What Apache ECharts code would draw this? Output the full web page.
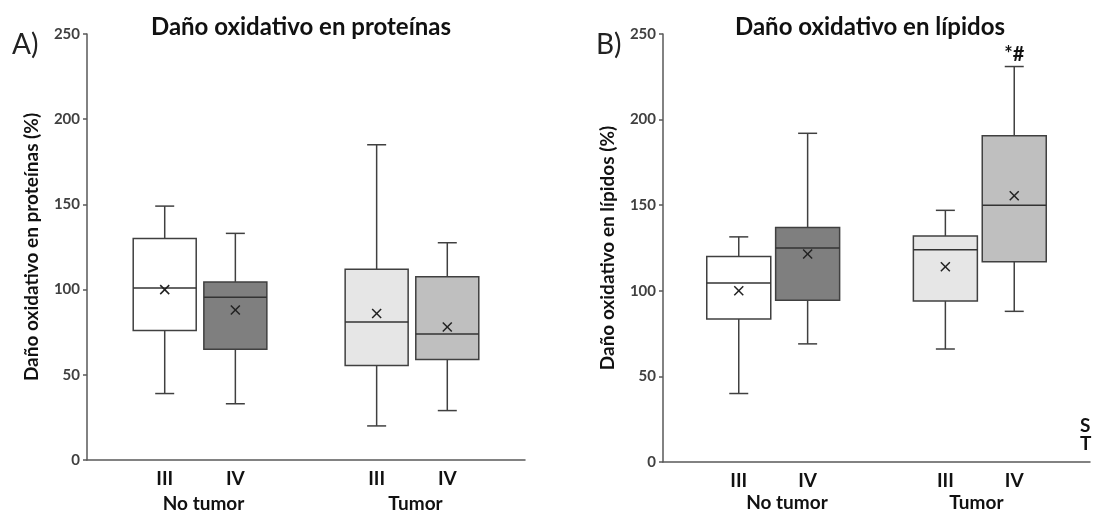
<!DOCTYPE html>
<html><head><meta charset="utf-8">
<script src="https://cdn.jsdelivr.net/npm/echarts@6/dist/echarts.min.js"></script>
<style>html,body{margin:0;padding:0;background:#fff}#c{width:1093px;height:513px}</style>
</head><body><div id="c"></div>
<script>
// ---- data ----
const stageLabels = ['III', 'IV', 'III', 'IV'];
const groupLabels = ['No tumor', 'Tumor'];
const yTicks = [0, 50, 100, 150, 200, 250];
// [min, Q1, median, Q3, max]
const proteinBoxes = [
  [39, 76, 101, 130, 149],
  [33, 65, 95.5, 104.5, 133],
  [20, 55.5, 81, 112, 185],
  [29, 59, 74, 107.5, 127.5]
];
const proteinMeans = [100, 88, 86, 78];
const lipidBoxes = [
  [40, 83.5, 104.5, 120, 131.5],
  [69, 94.5, 125, 137, 192],
  [66, 94, 124, 132, 147],
  [88, 117, 150, 190.5, 231]
];
const lipidMeans = [100, 121.5, 114, 155.5];
const lipidMarks = ['', '', '', '*#'];
const proteinMarks = ['', '', '', ''];

// ---- layout / style ----
const boxFills = ['#ffffff', '#7f7f7f', '#e6e6e6', '#bfbfbf'];
const FONT = 'Lato';
const layoutA = { slots: 31, boxSlots: [5, 10, 20, 25], gSlots: 125, groupSlots: [33, 93], boxW: 63, gMargin: 34 };
const layoutB = { slots: 31, boxSlots: [5, 10, 20, 25], gSlots: 125, groupSlots: [36, 91], boxW: 64, gMargin: 31 };

function slotData(n, idxs, labels) {
  const a = new Array(n).fill('');
  idxs.forEach((s, i) => { a[s] = labels[i]; });
  return a;
}

function makeRender(boxW, marks) {
  return function (params, api) {
    const x = api.value(0);
    const mn = api.coord([x, api.value(1)]);
    const q1 = api.coord([x, api.value(2)]);
    const md = api.coord([x, api.value(3)]);
    const q3 = api.coord([x, api.value(4)]);
    const mx = api.coord([x, api.value(5)]);
    const me = api.coord([x, api.value(6)]);
    const cx = mn[0], h = boxW / 2, cap = 9.5, xs = 4.5;
    const ln = { stroke: '#404040', lineWidth: 1.5 };
    const children = [
      { type: 'line', shape: { x1: cx, y1: q3[1], x2: cx, y2: mx[1] }, style: ln },
      { type: 'line', shape: { x1: cx, y1: q1[1], x2: cx, y2: mn[1] }, style: ln },
      { type: 'line', shape: { x1: cx - cap, y1: mx[1], x2: cx + cap, y2: mx[1] }, style: ln },
      { type: 'line', shape: { x1: cx - cap, y1: mn[1], x2: cx + cap, y2: mn[1] }, style: ln },
      { type: 'rect', shape: { x: cx - h, y: q3[1], width: boxW, height: q1[1] - q3[1] },
        style: { fill: boxFills[params.dataIndex], stroke: '#404040', lineWidth: 1.5 } },
      { type: 'line', shape: { x1: cx - h, y1: md[1], x2: cx + h, y2: md[1] }, style: { stroke: '#333', lineWidth: 1.5 } },
      { type: 'line', shape: { x1: cx - xs, y1: me[1] - xs, x2: cx + xs, y2: me[1] + xs }, style: { stroke: '#222', lineWidth: 1.5 } },
      { type: 'line', shape: { x1: cx - xs, y1: me[1] + xs, x2: cx + xs, y2: me[1] - xs }, style: { stroke: '#222', lineWidth: 1.5 } }
    ];
    const m = marks[params.dataIndex];
    if (m) {
      children.push({ type: 'text', x: cx, y: mx[1] - 2,
        style: { text: m, font: 'bold 20px ' + FONT, fill: '#111', align: 'center', verticalAlign: 'bottom' } });
    }
    return { type: 'group', children };
  };
}

function seriesData(layout, boxes, means) {
  return boxes.map((b, i) => [layout.boxSlots[i]].concat(b).concat([means[i]]));
}

const axisLineStyle = { color: '#595959', width: 1.5 };

function xAxes(gi, layout) {
  return [
    { gridIndex: gi, type: 'category', boundaryGap: true,
      data: slotData(layout.slots, layout.boxSlots, stageLabels),
      axisLine: { lineStyle: axisLineStyle }, axisTick: { show: false },
      axisLabel: { interval: 0, margin: 9, fontFamily: FONT, fontWeight: 'bold', fontSize: 19, color: '#111' } },
    { gridIndex: gi, type: 'category', boundaryGap: false, position: 'bottom',
      data: slotData(layout.gSlots, layout.groupSlots, groupLabels),
      axisLine: { show: false }, axisTick: { show: false },
      axisLabel: { interval: 0, margin: layout.gMargin, fontFamily: FONT, fontWeight: 'bold', fontSize: 19, color: '#111' } }
  ];
}

function yAxis(gi, name) {
  return { gridIndex: gi, type: 'value', min: yTicks[0], max: yTicks[yTicks.length - 1], interval: yTicks[1] - yTicks[0],
    name, nameLocation: 'middle', nameRotate: 90, nameGap: 46,
    nameTextStyle: { fontFamily: FONT, fontWeight: 'bold', fontSize: 19, color: '#111' },
    axisLine: { show: true, lineStyle: axisLineStyle },
    axisTick: { show: true, length: 4, lineStyle: axisLineStyle },
    splitLine: { show: false },
    axisLabel: { margin: 7, fontFamily: FONT, fontWeight: 'bold', fontSize: 15, color: '#404040' } };
}

const chart = echarts.init(document.getElementById('c'), null, { renderer: 'canvas' });
chart.setOption({
  animation: false,
  backgroundColor: '#ffffff',
  grid: [
    { left: 87, top: 34, width: 438, height: 428 },
    { left: 663, top: 34, width: 438, height: 428 }
  ],
  xAxis: xAxes(0, layoutA).concat(xAxes(1, layoutB)),
  yAxis: [yAxis(0, 'Daño oxidativo en proteínas (%)'), yAxis(1, 'Daño oxidativo en lípidos (%)')],
  series: [
    { type: 'custom', xAxisIndex: 0, yAxisIndex: 0, clip: false,
      renderItem: makeRender(layoutA.boxW, proteinMarks),
      encode: { x: 0, y: [1, 2, 3, 4, 5, 6] },
      data: seriesData(layoutA, proteinBoxes, proteinMeans) },
    { type: 'custom', xAxisIndex: 2, yAxisIndex: 1, clip: false,
      renderItem: makeRender(layoutB.boxW, lipidMarks),
      encode: { x: 0, y: [1, 2, 3, 4, 5, 6] },
      data: seriesData(layoutB, lipidBoxes, lipidMeans) }
  ],
  graphic: [
    { type: 'text', x: 301, y: 27, style: { text: 'Daño oxidativo en proteínas', font: 'bold 24px ' + FONT, fill: '#111', align: 'center', verticalAlign: 'middle' } },
    { type: 'text', x: 870, y: 27, style: { text: 'Daño oxidativo en lípidos', font: 'bold 24px ' + FONT, fill: '#111', align: 'center', verticalAlign: 'middle' } },
    { type: 'text', x: 12, y: 45, style: { text: 'A)', font: '28px ' + FONT, fill: '#222', align: 'left', verticalAlign: 'middle' } },
    { type: 'text', x: 596, y: 45, style: { text: 'B)', font: '28px ' + FONT, fill: '#222', align: 'left', verticalAlign: 'middle' } },
    { type: 'text', x: 1080, y: 426, style: { text: 'S', font: 'bold 19px ' + FONT, fill: '#111', align: 'left', verticalAlign: 'middle' } },
    { type: 'text', x: 1080, y: 444, style: { text: 'T', font: 'bold 19px ' + FONT, fill: '#111', align: 'left', verticalAlign: 'middle' } }
  ]
});
</script>
</body></html>
